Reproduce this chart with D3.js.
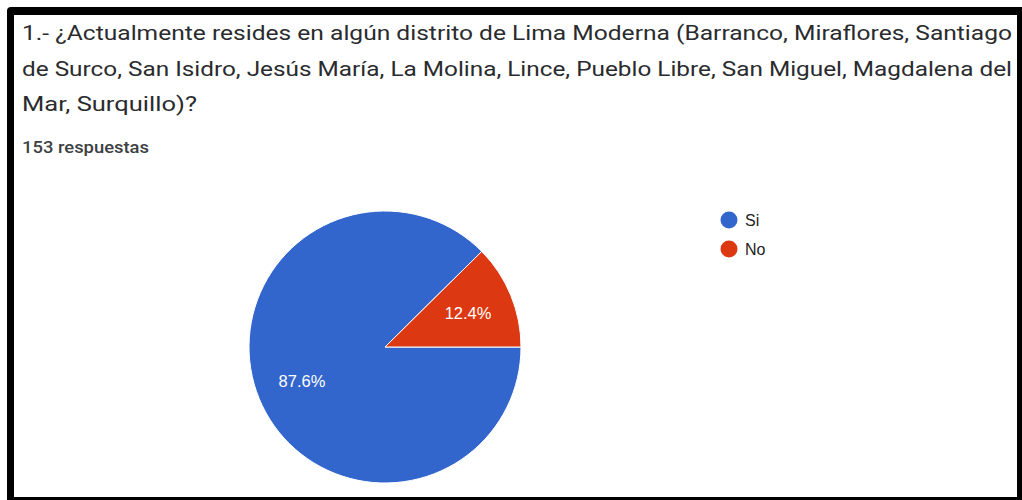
<!DOCTYPE html>
<html lang="es">
<head>
  <meta charset="UTF-8">
  <title>Lima Moderna</title>
  <script src="https://d3js.org/d3.v7.min.js"></script>
  <style>
    body { margin: 0; background: #fff; }
    svg { display: block; }
    .title { font-family: Roboto, sans-serif; font-size: 20.5px; fill: #2a2b2e; }
    .count { font-family: Roboto, sans-serif; font-size: 16px; font-weight: 500; fill: #3c4043; }
    .slice-label { font-family: "Liberation Sans", Arial, sans-serif; font-size: 16.5px; fill: #fff; text-anchor: middle; }
    .legend text { font-family: "Liberation Sans", Arial, sans-serif; font-size: 16px; fill: #222; }
  </style>
</head>
<body>
  <svg width="1022" height="500"></svg>
  <script>
    const titleLines = [
      "1.- ¿Actualmente resides en algún distrito de Lima Moderna (Barranco, Miraflores, Santiago",
      "de Surco, San Isidro, Jesús María, La Molina, Lince, Pueblo Libre, San Miguel, Magdalena del",
      "Mar, Surquillo)?"
    ];
    const responses = "153 respuestas";
    const categories = ["Si", "No"];
    const values = [87.6, 12.4];
    const colors = ["#3366cc", "#dc3912"];

    const svg = d3.select("svg");

    // black frame around the card
    svg.append("rect")
      .attr("x", 7).attr("y", 7)
      .attr("width", 1030).attr("height", 510)
      .attr("rx", 4)
      .attr("fill", "#000");
    svg.append("rect")
      .attr("x", 14).attr("y", 15)
      .attr("width", 1003).attr("height", 482)
      .attr("fill", "#fff");

    const lineWidths = [990, 990, 175];
    svg.selectAll(".title")
      .data(titleLines)
      .enter()
      .append("text")
      .attr("class", "title")
      .attr("x", 22)
      .attr("y", (d, i) => 40 + i * 35.5)
      .attr("textLength", (d, i) => lineWidths[i])
      .attr("lengthAdjust", "spacingAndGlyphs")
      .text(d => d);

    svg.append("text")
      .attr("class", "count")
      .attr("x", 22)
      .attr("y", 153)
      .attr("textLength", 127)
      .attr("lengthAdjust", "spacingAndGlyphs")
      .text(responses);

    const cx = 385, cy = 347, r = 136;
    const data = categories.map((c, i) => ({ name: c, value: values[i] }));

    const pie = d3.pie()
      .value(d => d.value)
      .sort(null)
      .startAngle(Math.PI / 2)
      .endAngle(Math.PI / 2 + 2 * Math.PI);

    const arc = d3.arc().innerRadius(0).outerRadius(r);
    const labelArc = d3.arc().innerRadius(r * 0.66).outerRadius(r * 0.66);

    const g = svg.append("g").attr("transform", `translate(${cx},${cy})`);
    const arcs = pie(data);

    g.selectAll("path")
      .data(arcs)
      .enter()
      .append("path")
      .attr("d", arc)
      .attr("fill", (d, i) => colors[i])
      .attr("stroke", "#fff")
      .attr("stroke-width", 1);

    g.selectAll(".slice-label")
      .data(arcs)
      .enter()
      .append("text")
      .attr("class", "slice-label")
      .attr("transform", d => {
        const [x, y] = labelArc.centroid(d);
        return `translate(${x},${y})`;
      })
      .attr("dy", "0.35em")
      .text(d => d.data.value.toFixed(1) + "%");

    const legend = svg.append("g").attr("class", "legend");
    const item = legend.selectAll("g")
      .data(categories)
      .enter()
      .append("g")
      .attr("transform", (d, i) => `translate(729,${220 + i * 29})`);
    item.append("circle").attr("r", 8.5).attr("fill", (d, i) => colors[i]);
    item.append("text").attr("x", 16).attr("dy", "0.36em").text(d => d);
  </script>
</body>
</html>
